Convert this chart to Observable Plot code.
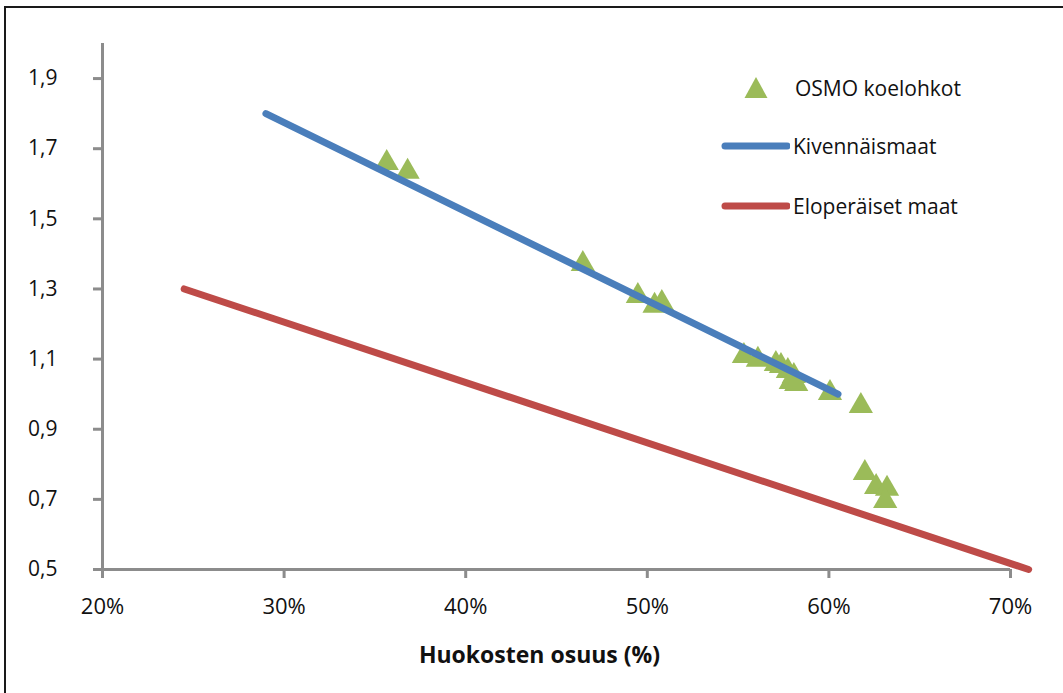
<!DOCTYPE html>
<html>
<head>
<meta charset="utf-8">
<script src="https://cdn.jsdelivr.net/npm/d3@7"></script>
<script src="https://cdn.jsdelivr.net/npm/@observablehq/plot@0.6"></script>
<style>
  html, body { margin: 0; padding: 0; background: #fff; }
  #wrap { position: relative; width: 1063px; height: 693px; overflow: hidden; font-family: "Open Sans", sans-serif; }
  #border { position: absolute; left: 4px; top: 6px; width: 1100px; height: 800px; border-top: 2px solid #1a1a1a; border-left: 2px solid #1a1a1a; box-sizing: border-box; pointer-events: none; }
  #legend { position: absolute; left: 720px; top: 70px; font-size: 21px; color: #111; }
  .item { position: absolute; white-space: nowrap; display: flex; align-items: center; }
</style>
</head>
<body>
<div id="wrap">
  <div id="chart"></div>
  <div id="border"></div>
  <div id="legend"></div>
</div>
<script>
// Observed plots (huokosten osuus, value)
const osmoX = [0.3565, 0.368, 0.4645, 0.4948, 0.504, 0.508, 0.5532, 0.5609, 0.5708, 0.5736, 0.5774, 0.5807, 0.579, 0.582, 0.6006, 0.6176, 0.6198, 0.626, 0.632, 0.631];
const osmoY = [1.659, 1.634, 1.371, 1.280, 1.252, 1.260, 1.109, 1.098, 1.086, 1.080, 1.066, 1.052, 1.035, 1.029, 1.003, 0.966, 0.775, 0.735, 0.730, 0.695];

// Lines
const kivX = [0.29, 0.605];
const kivY = [1.80, 1.00];
const eloX = [0.245, 0.71];
const eloY = [1.30, 0.50];

const seriesNames = ["OSMO koelohkot", "Kivennäismaat", "Eloperäiset maat"];
const colors = ["#9BBB59", "#4A7EBB", "#BE4B48"];

const xTicks = [0.2, 0.3, 0.4, 0.5, 0.6, 0.7];
const yTicks = [0.5, 0.7, 0.9, 1.1, 1.3, 1.5, 1.7, 1.9];
const xLabel = "Huokosten osuus (%)";

const osmo = osmoX.map((x, i) => ({x, y: osmoY[i]}));
const kiv = kivX.map((x, i) => ({x, y: kivY[i]}));
const elo = eloX.map((x, i) => ({x, y: eloY[i]}));

const axisColor = "#8C8C8C";

const plot = Plot.plot({
  width: 1063,
  height: 693,
  marginLeft: 102,
  marginRight: 53,
  marginTop: 43,
  marginBottom: 124,
  style: {fontFamily: "'Open Sans', sans-serif", fontSize: "22px", color: "#111", background: "#fff", overflow: "visible"},
  x: {domain: [0.2, 0.7]},
  y: {domain: [0.5, 2.0]},
  marks: [
    Plot.ruleX([xTicks[0]], {stroke: axisColor, strokeWidth: 3}),
    Plot.ruleY([yTicks[0]], {stroke: axisColor, strokeWidth: 3}),
    Plot.axisY(yTicks, {
      tickSize: 9, tickPadding: 36, stroke: axisColor, strokeWidth: 3, fontSize: 21,
      tickFormat: d => d.toFixed(1).replace(".", ","), label: null, fill: "#111"
    }),
    Plot.axisX(xTicks, {
      tickSize: 9, tickPadding: 20, stroke: axisColor, strokeWidth: 3, fontSize: 22,
      tickFormat: d3.format(".0%"), label: null, fill: "#111"
    }),
    Plot.line(elo, {x: "x", y: "y", stroke: colors[2], strokeWidth: 7, strokeLinecap: "round", clip: false}),
    Plot.dot(osmo, {x: "x", y: "y", symbol: "triangle", r: 9, fill: colors[0], stroke: "none"}),
    Plot.line(kiv, {x: "x", y: "y", stroke: colors[1], strokeWidth: 7, strokeLinecap: "round"}),
    Plot.text([xLabel], {text: d => d, frameAnchor: "bottom", dy: 93, dx: -17, fontWeight: "bold", fontSize: 23, fill: "#111"})
  ]
});
document.getElementById("chart").appendChild(plot);

// Legend
const legend = document.getElementById("legend");
const rows = [
  {type: "tri", top: 0},
  {type: "line", top: 58},
  {type: "line", top: 118}
];
rows.forEach((r, i) => {
  const div = document.createElement("div");
  div.className = "item";
  div.style.top = r.top + "px";
  let sw;
  if (r.type === "tri") {
    sw = `<svg width="70" height="36" style="margin-right:5px"><path d="M36,7 L47.5,28 L24.5,28 Z" fill="${colors[i]}"/></svg>`;
  } else {
    sw = `<svg width="70" height="36" style="margin-right:3px"><line x1="5" y1="18" x2="67" y2="18" stroke="${colors[i]}" stroke-width="7" stroke-linecap="round"/></svg>`;
  }
  div.innerHTML = sw + `<span>${seriesNames[i]}</span>`;
  legend.appendChild(div);
});
</script>
</body>
</html>
